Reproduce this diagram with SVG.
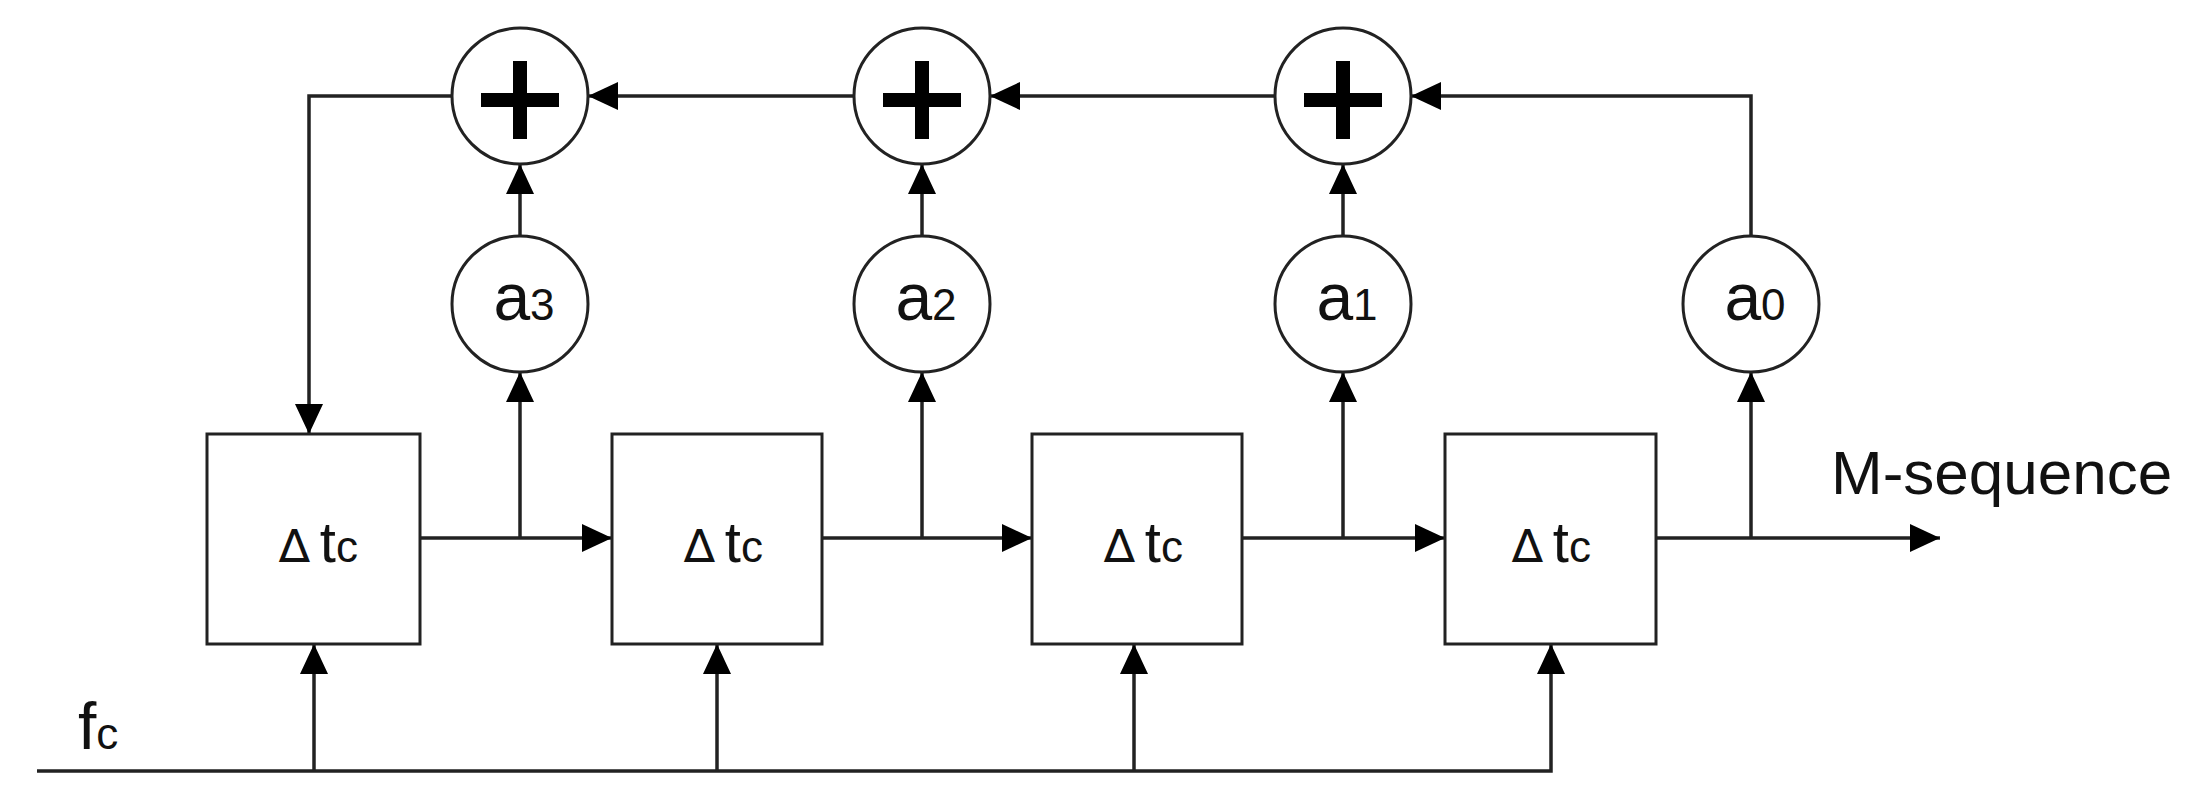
<svg xmlns="http://www.w3.org/2000/svg" width="2196" height="794" viewBox="0 0 2196 794">
<style>
.n{fill:#fff;stroke:#222;stroke-width:3}
.w{fill:none;stroke:#222;stroke-width:3.5}
.p{stroke:#000;stroke-width:14}
text{font-family:"Liberation Sans",Arial,sans-serif;fill:#111}
.t{font-size:58px}.ts{font-size:44px}.a{font-size:66px}.as{font-size:44px}
.d{font-family:"DejaVu Sans",sans-serif;font-size:46px}
</style>
<defs><marker id="ar" viewBox="0 0 30 28" refX="30" refY="14" markerWidth="30" markerHeight="28" markerUnits="userSpaceOnUse" orient="auto"><path d="M0,0L30,14L0,28z" fill="#000"/></marker></defs>
<rect width="2196" height="794" fill="#fff"/>
<g id="connectors" class="w" marker-end="url(#ar)">
<path d="M452,96H309V434"/>
<path d="M854,96H588"/>
<path d="M1275,96H990"/>
<path d="M1751,236V96H1411"/>
<path d="M420,538H612"/><path d="M822,538H1032"/><path d="M1242,538H1445"/><path d="M1656,538H1940"/>
<path d="M520,538V372"/><path d="M922,538V372"/><path d="M1343,538V372"/><path d="M1751,538V372"/>
<path d="M520,236V164"/><path d="M922,236V164"/><path d="M1343,236V164"/>
<path d="M37,771H1551V644" /><path d="M314,771V644"/><path d="M717,771V644"/><path d="M1134,771V644"/>
</g>
<g id="box1"><rect class="n" x="207" y="434" width="213" height="210"/><text x="279" y="562" class="t"><tspan class="d">∆</tspan><tspan dx="10">t</tspan><tspan class="ts">c</tspan></text></g>
<g id="box2"><rect class="n" x="612" y="434" width="210" height="210"/><text x="684" y="562" class="t"><tspan class="d">∆</tspan><tspan dx="10">t</tspan><tspan class="ts">c</tspan></text></g>
<g id="box3"><rect class="n" x="1032" y="434" width="210" height="210"/><text x="1104" y="562" class="t"><tspan class="d">∆</tspan><tspan dx="10">t</tspan><tspan class="ts">c</tspan></text></g>
<g id="box4"><rect class="n" x="1445" y="434" width="211" height="210"/><text x="1512" y="562" class="t"><tspan class="d">∆</tspan><tspan dx="10">t</tspan><tspan class="ts">c</tspan></text></g>
<g id="sum1"><circle class="n" cx="520" cy="96" r="68"/><path class="p" d="M481,100H559M520,61V139"/></g>
<g id="sum2"><circle class="n" cx="922" cy="96" r="68"/><path class="p" d="M883,100H961M922,61V139"/></g>
<g id="sum3"><circle class="n" cx="1343" cy="96" r="68"/><path class="p" d="M1304,100H1382M1343,61V139"/></g>
<g id="a3"><circle class="n" cx="520" cy="304" r="68"/><text x="524" y="320" class="a" text-anchor="middle">a<tspan class="as">3</tspan></text></g>
<g id="a2"><circle class="n" cx="922" cy="304" r="68"/><text x="926" y="320" class="a" text-anchor="middle">a<tspan class="as">2</tspan></text></g>
<g id="a1"><circle class="n" cx="1343" cy="304" r="68"/><text x="1347" y="320" class="a" text-anchor="middle">a<tspan class="as">1</tspan></text></g>
<g id="a0"><circle class="n" cx="1751" cy="304" r="68"/><text x="1755" y="320" class="a" text-anchor="middle">a<tspan class="as">0</tspan></text></g>
<text x="1831" y="494" style="font-size:62px">M-sequence</text>
<text x="78" y="749" class="a">f<tspan class="as">c</tspan></text>
</svg>
